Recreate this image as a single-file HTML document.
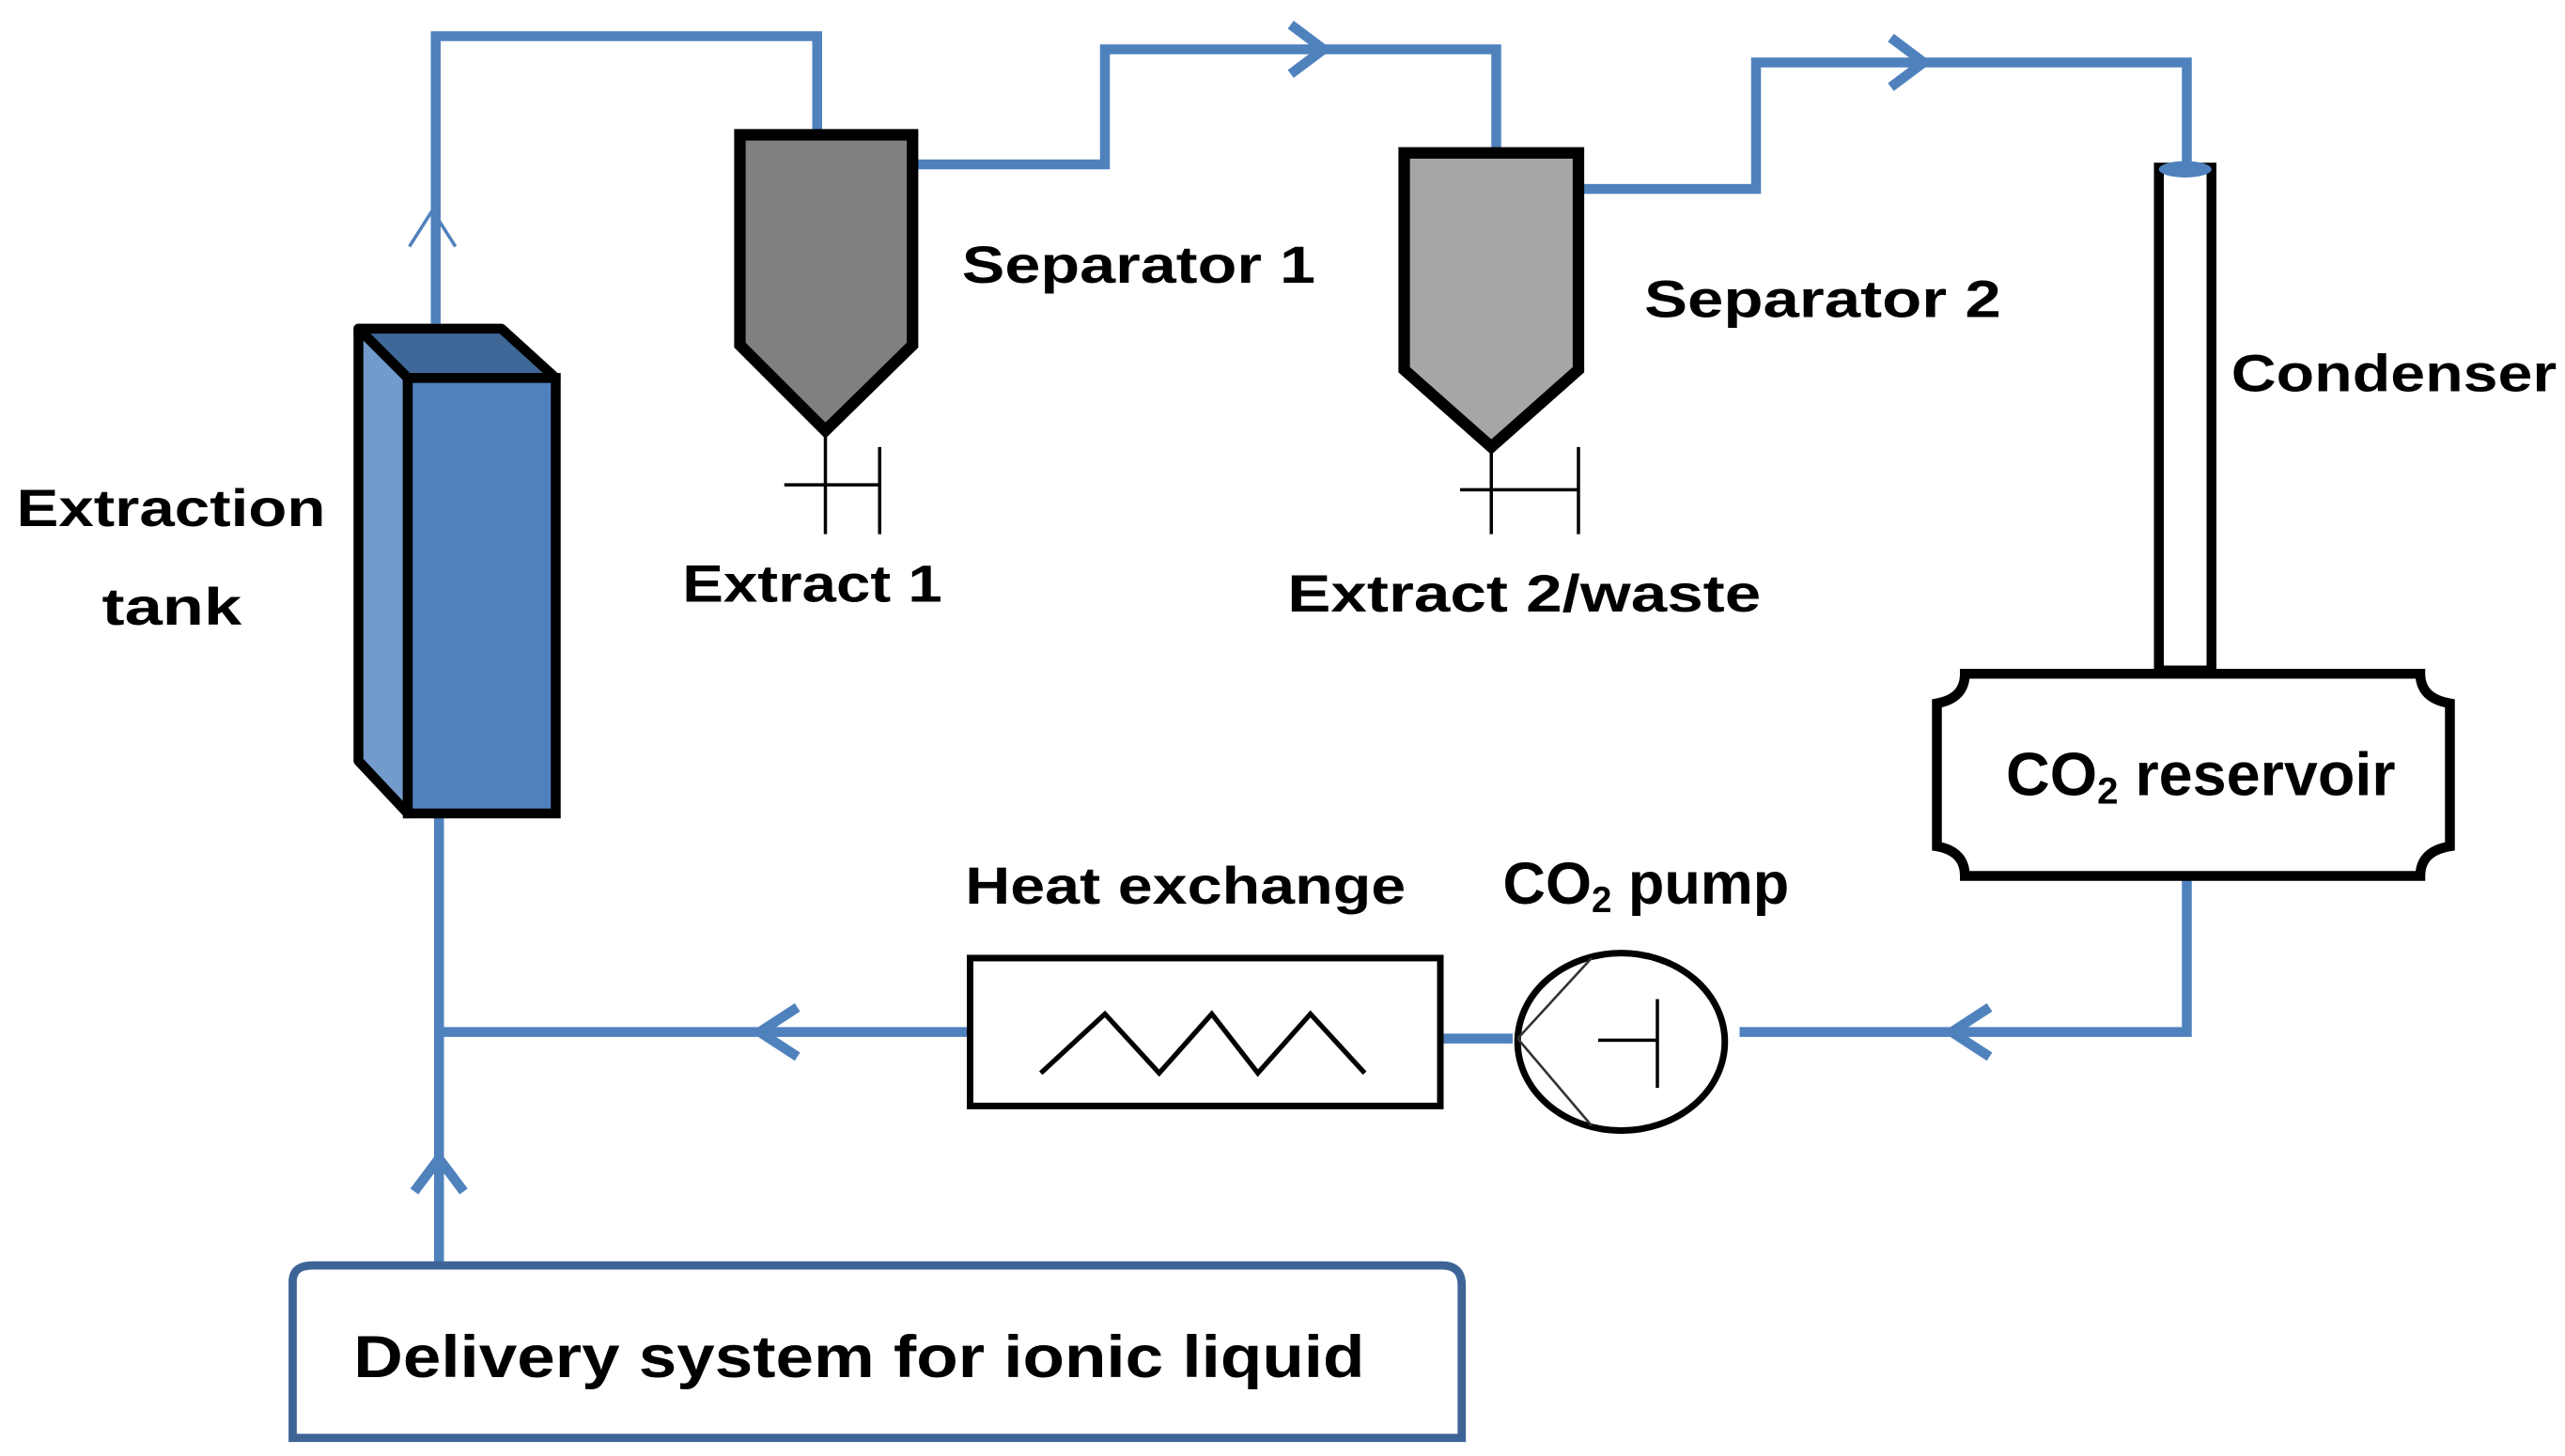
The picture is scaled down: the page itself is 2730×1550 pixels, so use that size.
<!DOCTYPE html>
<html><head><meta charset="utf-8"><style>
html,body{margin:0;padding:0;background:#fff;}
svg{display:block;}
text{font-family:"Liberation Sans",sans-serif;font-weight:bold;fill:#000;}
</style></head><body>
<svg width="2730" height="1550" viewBox="0 0 1560 886" preserveAspectRatio="none" xmlns="http://www.w3.org/2000/svg">
<g fill="none" stroke="#4F81BD" stroke-width="6">
<polyline points="265,197 265,22 497,22 497,82"/>
<polyline points="557,100 672,100 672,30 910,30 910,90"/>
<polyline points="960,115 1068,115 1068,38 1330,38 1330,100"/>
<polyline points="1330,533 1330,628 1058,628"/>
<line x1="920" y1="632" x2="876" y2="632"/>
<line x1="590" y1="628" x2="267" y2="628"/>
<line x1="267" y1="497" x2="267" y2="770"/>
<polyline points="785,15 805,30 785,45"/>
<polyline points="1150,23 1170,38 1150,53"/>
<polyline points="1210,613 1187,628 1210,643"/>
<polyline points="485,613 462,628 485,643"/>
<polyline points="252,725 267,705 282,725"/>
</g>
<polyline points="249,150 263,128 277,150" fill="none" stroke="#4F81BD" stroke-width="2"/>
<!-- tank -->
<polygon points="218,200 305,200 338,230 248,230" fill="#3F6797" stroke="#000" stroke-width="6" stroke-linejoin="round"/>
<polygon points="218,200 248,230 248,495 218,463" fill="#729ACB" stroke="#000" stroke-width="6" stroke-linejoin="round"/>
<rect x="248" y="230" width="90" height="265" fill="#4F81BD" stroke="#000" stroke-width="6"/>
<!-- separators -->
<polygon points="450,82 555,82 555,210 502,262 450,210" fill="#808080" stroke="#000" stroke-width="7"/>
<g stroke="#000" stroke-width="2">
<line x1="502" y1="262" x2="502" y2="325"/><line x1="477" y1="295" x2="535" y2="295"/><line x1="535" y1="272" x2="535" y2="325"/>
</g>
<polygon points="854,93 960,93 960,225 907,272 854,225" fill="#A6A6A6" stroke="#000" stroke-width="7"/>
<g stroke="#000" stroke-width="2">
<line x1="907" y1="272" x2="907" y2="325"/><line x1="888" y1="298" x2="960" y2="298"/><line x1="960" y1="272" x2="960" y2="325"/>
</g>
<!-- condenser -->
<rect x="1313" y="102" width="32" height="306" fill="#fff" stroke="#000" stroke-width="6"/>
<ellipse cx="1329" cy="103" rx="16" ry="5" fill="#4F81BD"/>
<!-- reservoir -->
<path d="M1195,410 H1472 Q1472,425 1490,428 V515 Q1472,518 1472,533 H1195 Q1195,518 1178,515 V428 Q1195,425 1195,410 Z" fill="#fff" stroke="#000" stroke-width="6"/>
<!-- heat exchange -->
<rect x="590" y="583" width="286" height="90" fill="#fff" stroke="#000" stroke-width="4"/>
<polyline points="633,653 672,617 705,653 737,617 765,653 797,617 830,653" fill="none" stroke="#000" stroke-width="3"/>
<!-- pump -->
<ellipse cx="986" cy="634" rx="63" ry="54" fill="#fff" stroke="#000" stroke-width="4"/>
<g stroke="#333" stroke-width="1.5"><line x1="923" y1="632" x2="968" y2="583"/><line x1="923" y1="632" x2="968" y2="685"/></g>
<g stroke="#000" stroke-width="2"><line x1="1008" y1="608" x2="1008" y2="662"/><line x1="972" y1="633" x2="1008" y2="633"/></g>
<!-- delivery -->
<path d="M178,870 V780 Q178,770 190,770 H877 Q889,770 889,782 V875 H178 Z" fill="none" stroke="#3E6497" stroke-width="5"/>
<!-- labels -->
<g font-size="32">
<text x="585" y="172" textLength="215" lengthAdjust="spacingAndGlyphs">Separator 1</text>
<text x="1000" y="193" textLength="217" lengthAdjust="spacingAndGlyphs">Separator 2</text>
<text x="1357" y="238" textLength="198" lengthAdjust="spacingAndGlyphs">Condenser</text>
<text x="10" y="320" textLength="188" lengthAdjust="spacingAndGlyphs">Extraction</text>
<text x="62" y="380" textLength="85" lengthAdjust="spacingAndGlyphs">tank</text>
<text x="415" y="366" textLength="158" lengthAdjust="spacingAndGlyphs">Extract 1</text>
<text x="783" y="372" textLength="288" lengthAdjust="spacingAndGlyphs">Extract 2/waste</text>
<text x="587" y="550" textLength="268" lengthAdjust="spacingAndGlyphs">Heat exchange</text>
<text x="914" y="550" font-size="36">CO<tspan font-size="22" dy="5">2</tspan><tspan dy="-5"> pump</tspan></text>
<text x="1220" y="484" font-size="37">CO<tspan font-size="23" dy="5">2</tspan><tspan dy="-5"> reservoir</tspan></text>
<text x="215" y="838" font-size="36" textLength="615" lengthAdjust="spacingAndGlyphs">Delivery system for ionic liquid</text>
</g>
</svg>
</body></html>
